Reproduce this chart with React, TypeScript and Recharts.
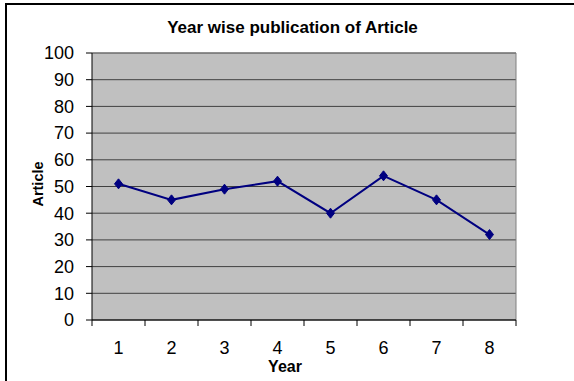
import { LineChart, Line, XAxis, YAxis, CartesianGrid, ReferenceLine } from 'recharts'

const years = [1, 2, 3, 4, 5, 6, 7, 8]
const articles = [51, 45, 49, 52, 40, 54, 45, 32]
const yTicks = [0, 10, 20, 30, 40, 50, 60, 70, 80, 90, 100]
const xTicks = [0.5, 1, 1.5, 2, 2.5, 3, 3.5, 4, 4.5, 5, 5.5, 6, 6.5, 7, 7.5, 8, 8.5]

const FONT = '"Liberation Sans", Arial, sans-serif'

const data = years.map((year, i) => ({ year, articles: articles[i] }))

function XTick(props: any) {
  const { x, y, payload } = props
  const v = payload.value
  if (!Number.isInteger(v)) {
    return <line x1={x} y1={y} x2={x} y2={y + 6} stroke="#000" strokeWidth={1} />
  }
  return (
    <text x={x} y={y + 28} dy="0.355em" textAnchor="middle" fontSize={18} fontFamily={FONT} fill="#000">
      {v}
    </text>
  )
}

function Diamond(props: any) {
  const { cx, cy } = props
  if (cx == null || cy == null) return null
  return <path d={`M${cx},${cy - 5}L${cx + 4},${cy}L${cx},${cy + 5}L${cx - 4},${cy}Z`} fill="#000080" stroke="#000080" />
}

export default function App() {
  return (
    <div style={{ position: 'absolute', left: 0, top: 0, width: 574, height: 381, overflow: 'hidden', background: '#fff' }}>
      <div style={{ position: 'absolute', left: 5, top: 3, width: 620, height: 420, border: '2px solid #000' }} />
      <div style={{ position: 'absolute', left: 0, top: 18, width: 585, textAlign: 'center', fontFamily: FONT, fontWeight: 'bold', fontSize: 17 }}>
        Year wise publication of Article
      </div>
      <div style={{ position: 'absolute', left: 38, top: 184, transform: 'translate(-50%, -50%) rotate(-90deg)', fontFamily: FONT, fontWeight: 'bold', fontSize: 14.5 }}>
        Article
      </div>
      <div style={{ position: 'absolute', left: 285, top: 367, transform: 'translate(-50%, -50%)', fontFamily: FONT, fontWeight: 'bold', fontSize: 16, lineHeight: '16px' }}>
        Year
      </div>
      <div style={{ position: 'absolute', left: 0, top: 0 }}>
        <LineChart width={574} height={381} data={data} margin={{ top: 53, right: 58, bottom: 0, left: 0 }}>
          <CartesianGrid vertical={false} fill="#c0c0c0" stroke="#404040" strokeWidth={1} />
          <XAxis
            dataKey="year"
            type="number"
            domain={[0.5, 8.5]}
            ticks={xTicks}
            interval={0}
            height={61}
            tickLine={false}
            tickSize={0}
            tickMargin={0}
            axisLine={{ stroke: '#000' }}
            tick={<XTick />}
          />
          <YAxis
            width={92}
            domain={[0, 100]}
            ticks={yTicks}
            interval={0}
            tickSize={6}
            tickMargin={12}
            axisLine={{ stroke: '#000' }}
            tickLine={{ stroke: '#000' }}
            tick={{ fontSize: 18, fontFamily: FONT, fill: '#000' }}
          />
          <ReferenceLine x={8.5} stroke="#808080" />
          <ReferenceLine y={100} stroke="#808080" />
          <Line
            dataKey="articles"
            stroke="#000080"
            strokeWidth={2}
            dot={<Diamond />}
            activeDot={false}
            isAnimationActive={false}
          />
        </LineChart>
      </div>
    </div>
  )
}
